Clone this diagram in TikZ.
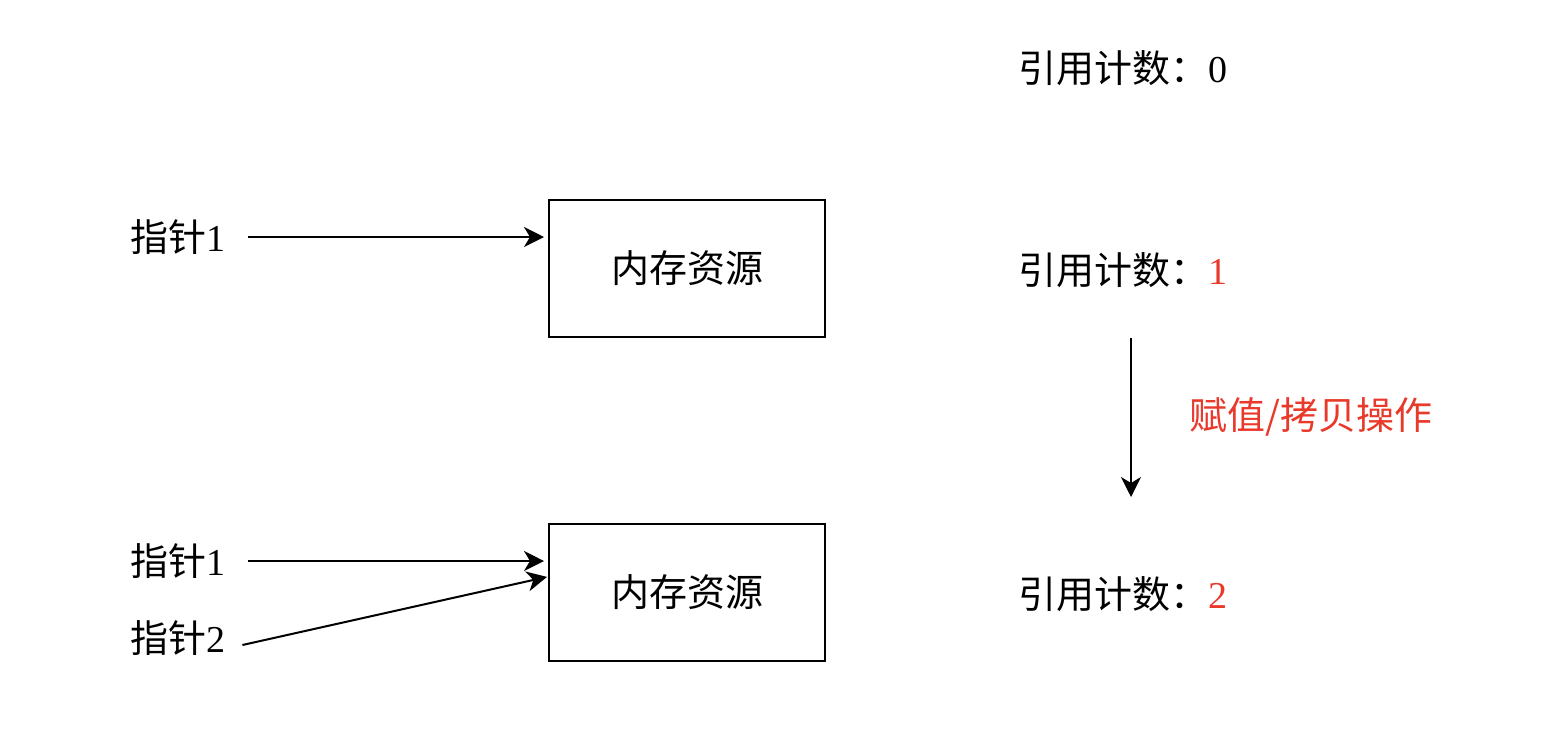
\documentclass[tikz,border=0pt]{standalone}
\usepackage{fontspec}
\setmainfont{Liberation Serif}
\newfontfamily\cjk{Noto Sans CJK SC}
\usetikzlibrary{arrows.meta}
\definecolor{opred}{HTML}{E8392A}
\tikzset{
  membox/.style={draw,line width=1pt,minimum width=138pt,minimum height=68.5pt,font=\cjk\fontsize{19}{23}\selectfont},
  lbl/.style={inner sep=0pt,anchor=west,font=\fontsize{19}{23}\selectfont},
  ptr/.style={line width=1pt,-{Stealth[length=10pt,width=10pt,inset=3pt]}}
}
\begin{document}
\begin{tikzpicture}[x=0.5pt,y=-0.5pt]
\useasboundingbox (0,0) rectangle (1558,730);

\node[membox] (box1) at (687,268.5) {内存资源};
\node[membox] (box2) at (687,592.5) {内存资源};

\node[lbl] (p1a) at (130,237) {{\cjk 指针}1};
\node[lbl] (p1b) at (130,561) {{\cjk 指针}1};
\node[lbl] (p2) at (130,638) {{\cjk 指针}2};

\draw[ptr] ([xshift=11pt]p1a.east) -- ([xshift=-2pt]box1.west |- p1a);
\draw[ptr] ([xshift=11pt]p1b.east) -- ([xshift=-2pt]box2.west |- p1b);
\draw[ptr] ([xshift=8.3pt,yshift=-3.5pt]p2.east) -- ([xshift=-0.5pt,yshift=7.8pt]box2.west);

\node[lbl] (cnt0) at (1018,68) {{\cjk 引用计数：}0};
\node[lbl] (cnt1) at (1018,270) {{\cjk 引用计数：}\textcolor{opred}{1}};
\node[lbl] (cnt2) at (1018,594) {{\cjk 引用计数：}\textcolor{opred}{2}};

\coordinate (opA) at (1131,338);
\coordinate (opB) at (1131,497);
\draw[ptr] (opA) -- (opB);
\node[lbl,text=opred] (op) at (1189,417) {{\cjk 赋值/拷贝操作}};
\end{tikzpicture}
\end{document}
